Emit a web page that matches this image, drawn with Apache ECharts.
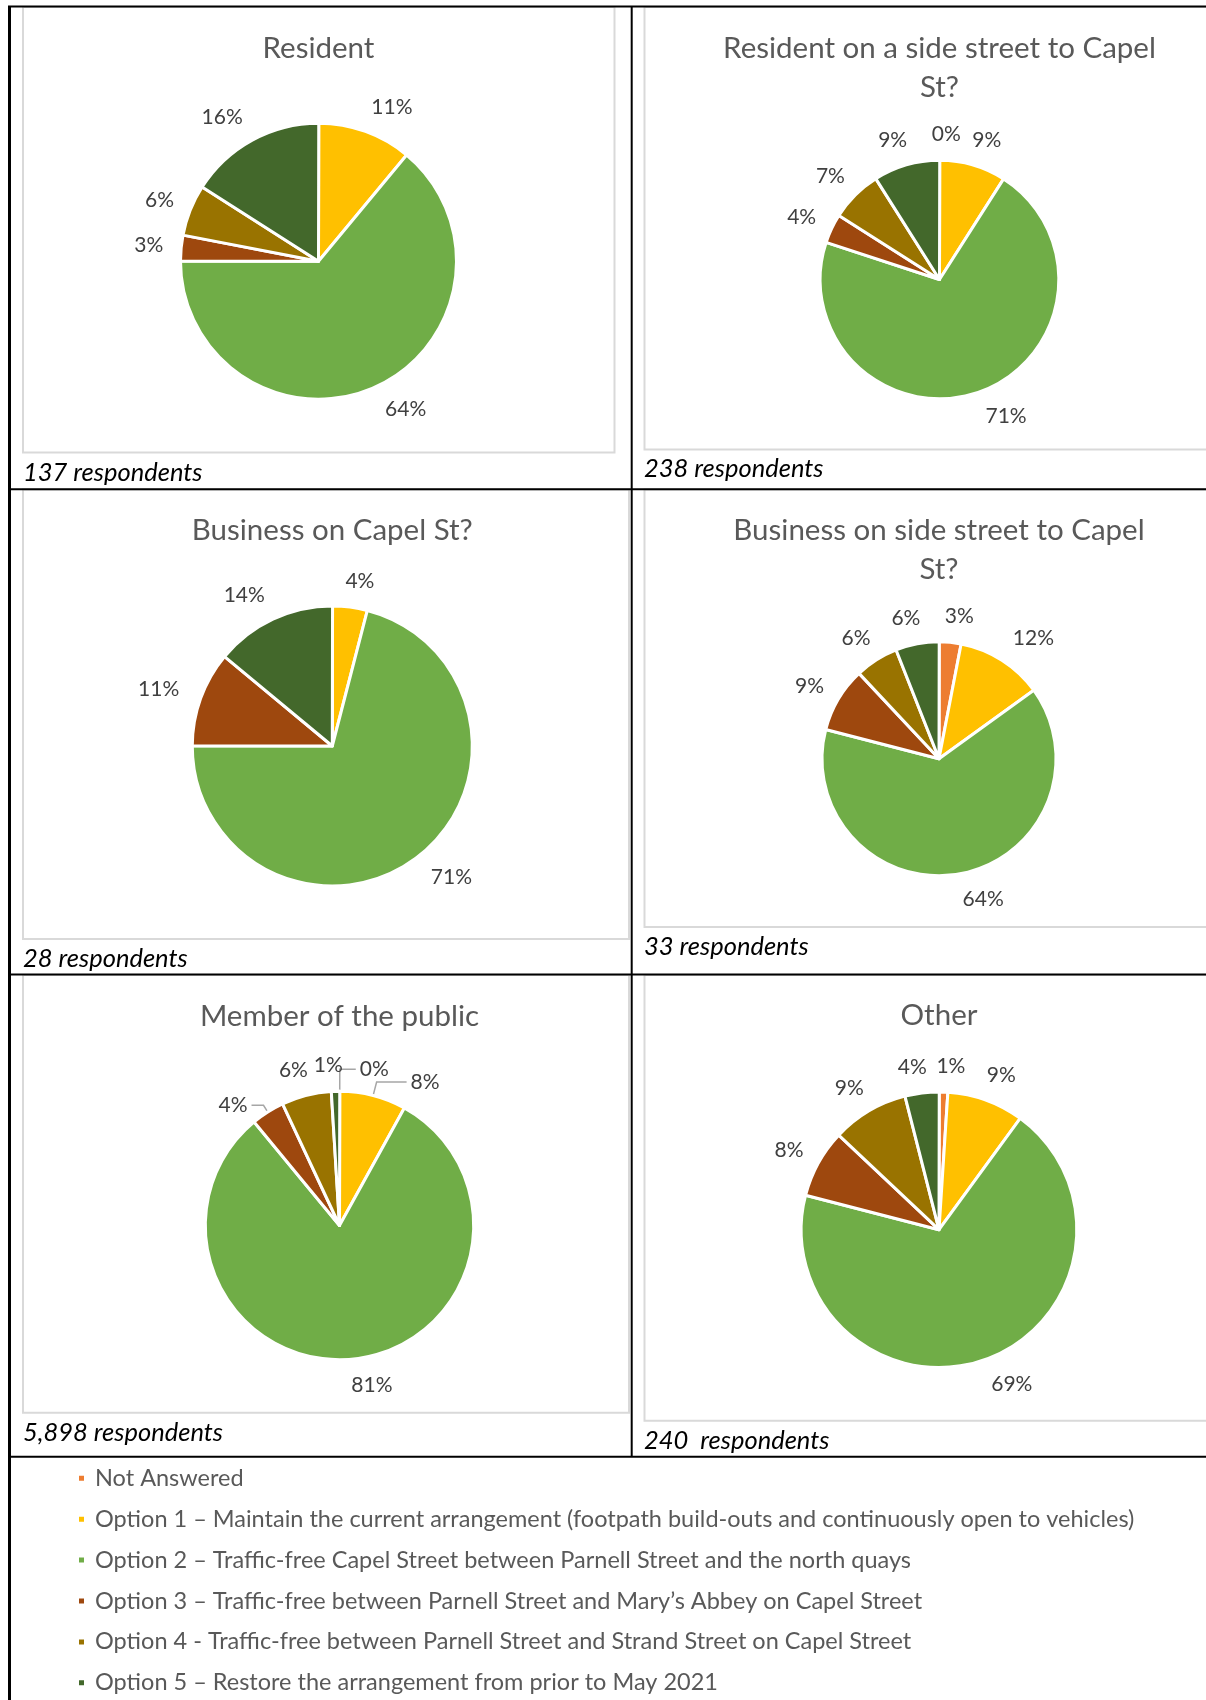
<!DOCTYPE html>
<html>
<head>
<meta charset="utf-8">
<title>Capel Street options by respondent type</title>
<script src="https://cdn.jsdelivr.net/npm/echarts@6.0.0/dist/echarts.min.js"></script>
<style>
  body { margin: 0; background: #fff; }
  #main { width: 1206px; height: 1700px; }
</style>
</head>
<body>
<div id="main"></div>
<script>
// options in the survey, in slice order (clockwise from 12 o'clock)
const categories = [
  'Not Answered',
  'Option 1 \u2013 Maintain the current arrangement (footpath build-outs and continuously open to vehicles)',
  'Option 2 \u2013 Traffic-free Capel Street between Parnell Street and the north quays',
  'Option 3 \u2013 Traffic-free between Parnell Street and Mary\u2019s Abbey on Capel Street',
  'Option 4 - Traffic-free between Parnell Street and Strand Street on Capel Street',
  'Option 5 \u2013 Restore the arrangement from prior to May 2021'
];
const colors = ['#ED7D31', '#FFC000', '#70AD47', '#9E480E', '#997300', '#43682B'];

const chartTitles = [
  'Resident',
  'Resident on a side street to Capel\nSt?',
  'Business on Capel St?',
  'Business on side street to Capel\nSt?',
  'Member of the public',
  'Other'
];
const respondents = [
  '137 respondents',
  '238 respondents',
  '28 respondents',
  '33 respondents',
  '5,898 respondents',
  '240  respondents'
];

// % of respondents for each option (null = no slice in that chart)
const resident           = [null, 11, 64, 3, 6, 16];
const residentSideStreet = [0, 9, 71, 4, 7, 9];
const businessCapel      = [null, 4, 71, 11, null, 14];
const businessSideStreet = [3, 12, 64, 9, 6, 6];
const memberOfPublic     = [0, 8, 81, 4, 6, 1];
const other              = [1, 9, 69, 8, 9, 4];

const allValues = [resident, residentSideStreet, businessCapel, businessSideStreet, memberOfPublic, other];

// page layout of the six table cells
const panels = [
  {cx: 318.5, cy: 261.2, r: 138,    frame: [23, 7, 591.5, 445.5],      titleTop: 28.5,  footLeft: 23,  footTop: 459.5},
  {cx: 939.5, cy: 279.5, r: 119.3,  frame: [644.5, 7, 600, 442.5],     titleTop: 28.5,  footLeft: 644, footTop: 456},
  {cx: 332.3, cy: 746,   r: 140,    frame: [23, 489.5, 606, 449.5],    titleTop: 510.5, footLeft: 23,  footTop: 946},
  {cx: 939,   cy: 758.8, r: 117,    frame: [644.5, 489.5, 600, 437.5], titleTop: 510.5, footLeft: 644, footTop: 933.5},
  {cx: 339.5, cy: 1225.5, r: 134.2, frame: [23, 975, 606, 437.7],      titleTop: 997,   footLeft: 23,  footTop: 1420},
  {cx: 939,   cy: 1229.7, r: 137.8, frame: [644.5, 975, 600, 445.7],   titleTop: 995.5, footLeft: 644, footTop: 1428}
];

// leader lines shown in the "Member of the public" chart: [length, length2]
const leaderLines = {4: {0: [22, 16], 1: [14, 30], 3: [8, 12]}};

// black table rules: x1, y1, x2, y2, width
const tableLines = [
  [8, 6.5, 1206, 6.5, 2],
  [9.5, 6, 9.5, 1700, 3],
  [631.7, 6, 631.7, 1457, 2],
  [8, 489.2, 1206, 489.2, 2],
  [8, 974.5, 1206, 974.5, 2],
  [8, 1456.7, 1206, 1456.7, 2]
];

const font = 'Lato, "Noto Sans", sans-serif';

let myChart = echarts.init(document.getElementById('main'));

let series = allValues.map((vals, k) => {
  const p = panels[k];
  const data = [];
  vals.forEach((v, i) => {
    if (v === null) return;
    const item = {name: categories[i], value: v, itemStyle: {color: colors[i]}};
    const ll = (leaderLines[k] || {})[i];
    if (ll) {
      item.labelLine = {show: true, length: ll[0], length2: ll[1]};
      item.label = {distanceToLabelLine: 4};
    } else {
      // pull the text in a little, like Excel's "outside end" labels
      item.label = {distanceToLabelLine: v >= 10 ? -3 : -8};
    }
    data.push(item);
  });
  return {
    type: 'pie',
    center: [p.cx, p.cy],
    radius: p.r,
    startAngle: 89.9,
    avoidLabelOverlap: false,
    itemStyle: {borderColor: '#fff', borderWidth: 3},
    label: {
      formatter: d => Math.round(d.percent) + '%',
      fontFamily: font,
      fontSize: 21,
      color: '#404040',
      padding: [4, 0, 0, 0]
    },
    labelLine: {show: false, length: 26, length2: 0, lineStyle: {color: '#A6A6A6', width: 1.5}},
    emphasis: {disabled: true},
    data: data
  };
});

let titles = [];
chartTitles.forEach((t, k) => {
  titles.push({
    text: t,
    left: panels[k].cx,
    top: panels[k].titleTop,
    textAlign: 'center',
    padding: 0,
    textStyle: {fontFamily: font, fontSize: 29.5, fontWeight: 'normal', color: '#595959', lineHeight: 39}
  });
});
respondents.forEach((t, k) => {
  titles.push({
    text: t,
    left: panels[k].footLeft,
    top: panels[k].footTop,
    padding: 0,
    textStyle: {fontFamily: font, fontSize: 25.5, fontStyle: 'italic', fontWeight: 'normal', color: '#000', lineHeight: 26}
  });
});

let graphic = [];
panels.forEach(p => {
  graphic.push({
    type: 'rect',
    silent: true,
    shape: {x: p.frame[0], y: p.frame[1], width: p.frame[2], height: p.frame[3]},
    style: {fill: 'none', stroke: '#D9D9D9', lineWidth: 2}
  });
});
tableLines.forEach(l => {
  graphic.push({
    type: 'line',
    silent: true,
    z: 10,
    shape: {x1: l[0], y1: l[1], x2: l[2], y2: l[3]},
    style: {stroke: '#000', lineWidth: l[4]}
  });
});

let option = {
  animation: false,
  backgroundColor: '#fff',
  title: titles,
  legend: {
    orient: 'vertical',
    left: 77,
    top: 1466.3,
    padding: 0,
    itemWidth: 7,
    itemHeight: 7,
    itemGap: 16.9,
    icon: 'rect',
    selectedMode: false,
    data: categories,
    textStyle: {fontFamily: font, fontSize: 23.5, color: '#595959', lineHeight: 23.5, padding: [0, 0, 0, 5]}
  },
  graphic: graphic,
  series: series
};

myChart.setOption(option);
</script>
</body>
</html>
